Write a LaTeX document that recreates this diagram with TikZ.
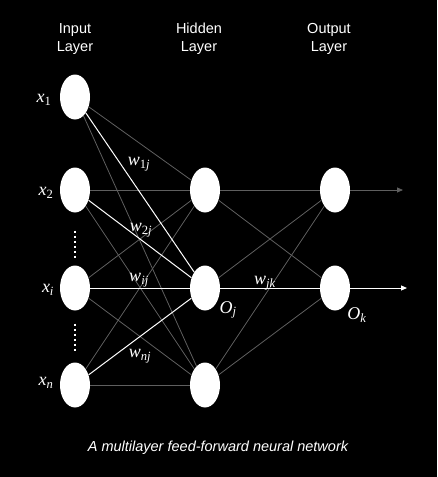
\documentclass[tikz,border=0pt]{standalone}
\usepackage{fontspec}
\setsansfont{Liberation Sans}
\newfontfamily\serifet{Liberation Serif}
\usetikzlibrary{shapes.geometric,arrows.meta,positioning}
\definecolor{edgegray}{RGB}{95,95,95}
\newcommand{\var}[2]{\textit{#1}\textsubscript{#2}}

\begin{document}
\begin{tikzpicture}[x=1pt, y=1pt, node distance=1cm]
  % estilos
  \tikzset{
   neurona/.style={
           ellipse,
           fill=white,
           inner sep=0pt,
           minimum width=30pt,
           minimum height=45pt},
   capa/.style={
           text=white,
           align=center,
           font=\sffamily\fontsize{14.5}{18}\selectfont},
   etiq/.style={
           text=white,
           inner sep=1pt,
           font=\serifet\fontsize{18}{20}\selectfont},
   % lineas
   conex/.style={edgegray, line width=0.8pt},
   peso/.style={white, line width=1pt},
   puntos/.style={white, line width=2.4pt, dash pattern=on 2pt off 3pt}
  }
  % fondo
  \fill[black] (0,0) rectangle (437,-477);
  \useasboundingbox (0,0) rectangle (437,-477);

  % titulos
  \node[capa] (tin) at (75,-39) {Input\\Layer};
  \node[capa] (thid) at (199,-39) {Hidden\\Layer};
  \node[capa] (tout) at (329,-39) {Output\\Layer};

  % capa de entrada
  \node[neurona] (x1) at (75,-97) {};
  \node[neurona] (x2) at (75,-190) {};
  \node[neurona] (xi) at (75,-288) {};
  \node[neurona] (xn) at (75,-385) {};
  % capa oculta
  \node[neurona] (h1) at (205,-190) {};
  \node[neurona] (h2) at (205,-288) {};
  \node[neurona] (h3) at (205,-385) {};
  % capa de salida
  \node[neurona] (o1) at (335,-190) {};
  \node[neurona] (o2) at (335,-288) {};
  \coordinate (s1) at (403,-190);
  \coordinate (s2) at (407,-288);

  % conexiones grises
  \foreach \a in {x1,x2,xi,xn}
    \foreach \b in {h1,h3}
      \draw[conex] (\a) -- (\b);
  \draw[conex] (h1) -- (o1);
  \draw[conex] (h1) -- (o2);
  \draw[conex] (h2) -- (o1);
  \draw[conex] (h3) -- (o1);
  \draw[conex] (h3) -- (o2);
  \draw[conex, -{Triangle[length=6pt, width=5pt]}] (o1) -- (s1);
  % conexiones blancas
  \foreach \a in {x1,x2,xi,xn}
    \draw[peso] (\a) -- (h2);
  \draw[peso] (h2) -- (o2);
  \draw[peso, -{Triangle[length=6pt, width=5pt]}] (o2) -- (s2);

  % puntos suspensivos
  \draw[puntos] (x2.south) ++(0,-18) -- ++(0,-27);
  \draw[puntos] (xi.south) ++(0,-13) -- ++(0,-27);

  % etiquetas
  \node[etiq] (lx1) at (44,-100) {\var{x}{1}};
  \node[etiq] (lx2) at (46,-193) {\var{x}{2}};
  \node[etiq] (lxi) at (48,-290) {\var{x}{\textit{i}}};
  \node[etiq] (lxn) at (46,-383) {\var{x}{\textit{n}}};
  \node[etiq] (w1j) at (139,-164) {\var{w}{1\textit{j}}};
  \node[etiq] (w2j) at (141,-230) {\var{w}{2\textit{j}}};
  \node[etiq] (wij) at (139,-280) {\var{w}{\textit{ij}}};
  \node[etiq] (wnj) at (140,-356) {\var{w}{\textit{nj}}};
  \node[etiq] (wjk) at (265,-283) {\var{w}{\textit{jk}}};
  \node[etiq] (oj) at (228,-310) {\var{O}{\textit{j}}};
  \node[etiq] (ok) at (357,-315) {\var{O}{\textit{k}}};

  % pie
  \node[text=white, font=\sffamily\itshape\fontsize{14.5}{17}\selectfont]
    (pie) at (218,-448) {A multilayer feed-forward neural network};
\end{tikzpicture}
\end{document}
